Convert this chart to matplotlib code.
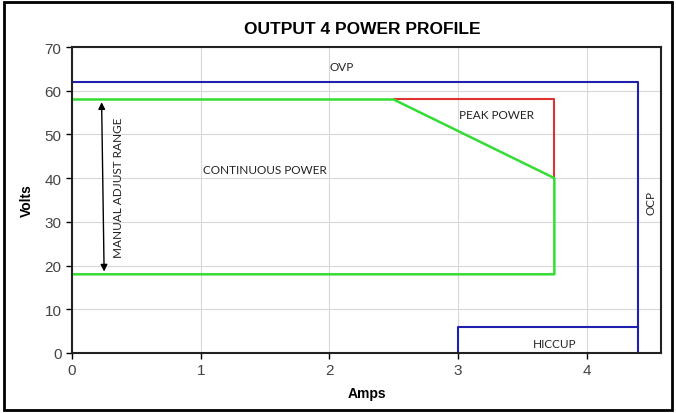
import matplotlib.pyplot as plt
from matplotlib.patches import Rectangle

# profile outlines (amps, volts)
ovp_amps = [0, 4.4, 4.4]
ovp_volts = [62, 62, 0]
hiccup_amps = [3, 3, 4.4]
hiccup_volts = [0, 6, 6]
cont_amps = [0, 2.5, 3.75, 3.75, 0]
cont_volts = [58, 58, 40, 18, 18]
peak_amps = [2.5, 3.75, 3.75]
peak_volts = [58, 58, 40]

x_ticks = [0, 1, 2, 3, 4]
y_ticks = [0, 10, 20, 30, 40, 50, 60, 70]

fig = plt.figure(figsize=(6.76, 4.14), dpi=100)
ax = fig.add_axes([0.1065, 0.145, 0.8715, 0.739])

ax.plot(ovp_amps, ovp_volts, color="#2020b0", lw=1.5)
ax.plot(hiccup_amps, hiccup_volts, color="#2020b0", lw=1.5)
ax.plot(peak_amps, peak_volts, color="#e03030", lw=1.5)
ax.plot(cont_amps, cont_volts, color="#33dd33", lw=1.8)

# manual adjust arrow
ax.annotate("", xy=(0.23, 58), xytext=(0.25, 18),
            arrowprops=dict(arrowstyle="<|-|>", color="black", lw=1, mutation_scale=10))

note = dict(family="Lato", fontsize=8.5, color="#222222")
ax.text(0.36, 38, "MANUAL ADJUST RANGE", rotation=90, ha="center", va="center", **note)
ax.text(1.02, 42, "CONTINUOUS POWER", ha="left", va="center", **note)
ax.text(3.3, 54.5, "PEAK POWER", ha="center", va="center", **note)
ax.text(2.1, 65.5, "OVP", ha="center", va="center", **note)
ax.text(4.5, 34.5, "OCP", rotation=90, ha="center", va="center", **note)
ax.text(3.75, 2.2, "HICCUP", ha="center", va="center", **note)

ax.set_xlim(0, 4.58)
ax.set_ylim(0, 70)
ax.set_xticks(x_ticks)
ax.set_yticks(y_ticks)
ax.grid(True, color="#d8d8d8", lw=0.8)
ax.set_axisbelow(True)
for s in ax.spines.values():
    s.set_linewidth(1.5)
    s.set_color("#222222")
ax.tick_params(labelsize=11, labelcolor="#444444", length=4, width=1, direction="out")
for lbl in ax.get_xticklabels() + ax.get_yticklabels():
    lbl.set_family("Liberation Sans")

ax.set_xlabel("Amps", family="Liberation Sans", fontsize=10, fontweight="bold", labelpad=6)
ax.set_ylabel("Volts", family="Liberation Sans", fontsize=10, fontweight="bold", labelpad=8)
fig.text(0.536, 0.928, "OUTPUT 4 POWER PROFILE", ha="center", va="center",
         family="Liberation Sans", fontsize=12.5, fontweight="bold")

# outer frame
fig.patches.append(Rectangle((0.006, 0.008), 0.988, 0.984, transform=fig.transFigure,
                             fill=False, edgecolor="black", lw=2))

fig.savefig("out.png", dpi=100)
